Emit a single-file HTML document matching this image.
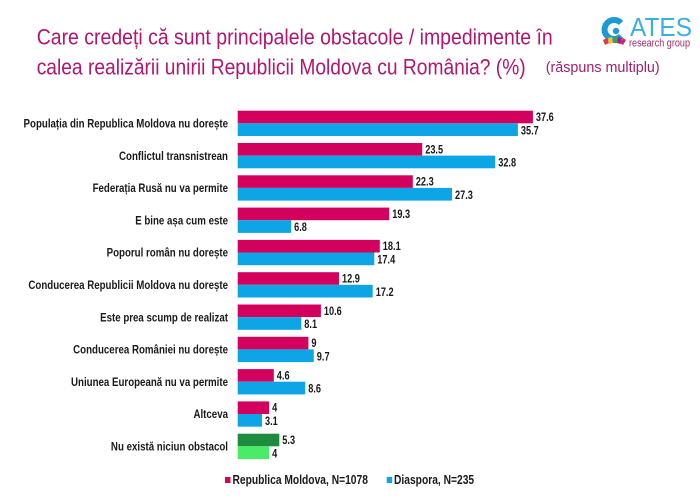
<!DOCTYPE html>
<html><head><meta charset="utf-8"><style>
html,body{margin:0;padding:0;background:#fff;}
svg{display:block;}
text{font-family:"Liberation Sans",sans-serif;}
</style></head><body>
<svg width="700" height="496" viewBox="0 0 700 496" xmlns="http://www.w3.org/2000/svg">
<rect width="700" height="496" fill="#fff"/>
<!-- Title -->
<text x="36.7" y="44.3" font-size="22" fill="#b0176f" textLength="516" lengthAdjust="spacingAndGlyphs">Care credeți că sunt principalele obstacole / impedimente în</text>
<text x="36.7" y="74.5" font-size="22" fill="#b0176f" textLength="489" lengthAdjust="spacingAndGlyphs">calea realizării unirii Republicii Moldova cu România? (%)</text>
<text x="545.7" y="72" font-size="15" fill="#a0206a" textLength="114" lengthAdjust="spacingAndGlyphs">(răspuns multiplu)</text>
<!-- Logo -->
<path d="M621 23 A9.5 9.5 0 1 0 621 36" fill="none" stroke="#1c9ad6" stroke-width="6"/>
<circle cx="616" cy="31" r="3.2" fill="#1c9ad6"/>
<path d="M603 40 l4 -2 l2 5 l-4 2z" fill="#e53935"/>
<path d="M608 38 l4 -1 l1 6 l-4 1z" fill="#fbc02d"/>
<path d="M613 37 l4 0 l0 6 l-4 0z" fill="#43a047"/>
<path d="M618 37 l4 1 l-1 6 l-4 -1z" fill="#8e24aa"/>
<path d="M623 38 l3 2 l-3 5 l-3 -2z" fill="#e91e63"/>
<text x="630" y="36" font-size="26" fill="#3bb0e0" textLength="62" lengthAdjust="spacingAndGlyphs">ATES</text>
<text x="629" y="46.5" font-size="11" fill="#9a2a6a" textLength="61" lengthAdjust="spacingAndGlyphs">research group</text>

<g font-weight="bold" fill="#1a1a1a">
<!-- Category labels -->
<text transform="translate(228,127.5) scale(0.81,1)" text-anchor="end" font-size="12">Populația din Republica Moldova nu dorește</text>
<text transform="translate(228,159.8) scale(0.81,1)" text-anchor="end" font-size="12">Conflictul transnistrean</text>
<text transform="translate(228,192.1) scale(0.81,1)" text-anchor="end" font-size="12">Federația Rusă nu va permite</text>
<text transform="translate(228,224.4) scale(0.81,1)" text-anchor="end" font-size="12">E bine așa cum este</text>
<text transform="translate(228,256.7) scale(0.81,1)" text-anchor="end" font-size="12">Poporul român nu dorește</text>
<text transform="translate(228,289.0) scale(0.81,1)" text-anchor="end" font-size="12">Conducerea Republicii Moldova nu dorește</text>
<text transform="translate(228,321.3) scale(0.81,1)" text-anchor="end" font-size="12">Este prea scump de realizat</text>
<text transform="translate(228,353.6) scale(0.81,1)" text-anchor="end" font-size="12">Conducerea României nu dorește</text>
<text transform="translate(228,385.9) scale(0.81,1)" text-anchor="end" font-size="12">Uniunea Europeană nu va permite</text>
<text transform="translate(228,418.2) scale(0.81,1)" text-anchor="end" font-size="12">Altceva</text>
<text transform="translate(228,450.5) scale(0.81,1)" text-anchor="end" font-size="12">Nu există niciun obstacol</text>
</g>

<!-- Bars -->
<g>
<rect x="237.7" y="110.7" width="295.2" height="12.6" fill="#d4005e"/>
<rect x="237.7" y="123.3" width="280.2" height="12.7" fill="#0ea5e6"/>
<rect x="237.7" y="143.0" width="184.5" height="12.6" fill="#d4005e"/>
<rect x="237.7" y="155.6" width="257.5" height="12.7" fill="#0ea5e6"/>
<rect x="237.7" y="175.3" width="175.1" height="12.6" fill="#d4005e"/>
<rect x="237.7" y="187.9" width="214.3" height="12.7" fill="#0ea5e6"/>
<rect x="237.7" y="207.6" width="151.5" height="12.6" fill="#d4005e"/>
<rect x="237.7" y="220.2" width="53.4" height="12.7" fill="#0ea5e6"/>
<rect x="237.7" y="239.9" width="142.1" height="12.6" fill="#d4005e"/>
<rect x="237.7" y="252.5" width="136.6" height="12.7" fill="#0ea5e6"/>
<rect x="237.7" y="272.2" width="101.3" height="12.6" fill="#d4005e"/>
<rect x="237.7" y="284.8" width="135.0" height="12.7" fill="#0ea5e6"/>
<rect x="237.7" y="304.5" width="83.2" height="12.6" fill="#d4005e"/>
<rect x="237.7" y="317.1" width="63.6" height="12.7" fill="#0ea5e6"/>
<rect x="237.7" y="336.8" width="70.7" height="12.6" fill="#d4005e"/>
<rect x="237.7" y="349.4" width="76.1" height="12.7" fill="#0ea5e6"/>
<rect x="237.7" y="369.1" width="36.1" height="12.6" fill="#d4005e"/>
<rect x="237.7" y="381.7" width="67.5" height="12.7" fill="#0ea5e6"/>
<rect x="237.7" y="401.4" width="31.4" height="12.6" fill="#d4005e"/>
<rect x="237.7" y="414.0" width="24.3" height="12.7" fill="#0ea5e6"/>
<rect x="237.7" y="433.7" width="41.6" height="12.6" fill="#1e8c3e"/>
<rect x="237.7" y="446.3" width="31.4" height="12.7" fill="#48ec66"/>
</g>

<!-- Value labels -->
<g font-weight="bold" fill="#1a1a1a" font-size="11.5">
<text transform="translate(535.9,121) scale(0.8,1)">37.6</text>
<text transform="translate(520.9,134.3) scale(0.8,1)">35.7</text>
<text transform="translate(425.2,153.3) scale(0.8,1)">23.5</text>
<text transform="translate(498.2,166.6) scale(0.8,1)">32.8</text>
<text transform="translate(415.8,185.6) scale(0.8,1)">22.3</text>
<text transform="translate(455.0,198.9) scale(0.8,1)">27.3</text>
<text transform="translate(392.2,217.9) scale(0.8,1)">19.3</text>
<text transform="translate(294.1,231.2) scale(0.8,1)">6.8</text>
<text transform="translate(382.8,250.2) scale(0.8,1)">18.1</text>
<text transform="translate(377.3,263.5) scale(0.8,1)">17.4</text>
<text transform="translate(342.0,282.5) scale(0.8,1)">12.9</text>
<text transform="translate(375.7,295.8) scale(0.8,1)">17.2</text>
<text transform="translate(323.9,314.8) scale(0.8,1)">10.6</text>
<text transform="translate(304.3,328.1) scale(0.8,1)">8.1</text>
<text transform="translate(311.4,347.1) scale(0.8,1)">9</text>
<text transform="translate(316.8,360.4) scale(0.8,1)">9.7</text>
<text transform="translate(276.8,379.4) scale(0.8,1)">4.6</text>
<text transform="translate(308.2,392.7) scale(0.8,1)">8.6</text>
<text transform="translate(272.1,411.7) scale(0.8,1)">4</text>
<text transform="translate(265.0,425.0) scale(0.8,1)">3.1</text>
<text transform="translate(282.3,444.0) scale(0.8,1)">5.3</text>
<text transform="translate(272.1,457.3) scale(0.8,1)">4</text>
</g>

<!-- Legend -->
<rect x="225" y="477" width="5.5" height="6" fill="#d4005e"/>
<text transform="translate(232.5,484) scale(0.79,1)" font-size="13" font-weight="bold" fill="#1a1a1a">Republica Moldova, N=1078</text>
<rect x="386.7" y="477" width="5.5" height="6" fill="#0ea5e6"/>
<text transform="translate(394,484) scale(0.79,1)" font-size="13" font-weight="bold" fill="#1a1a1a">Diaspora, N=235</text>
</svg>
</body></html>
